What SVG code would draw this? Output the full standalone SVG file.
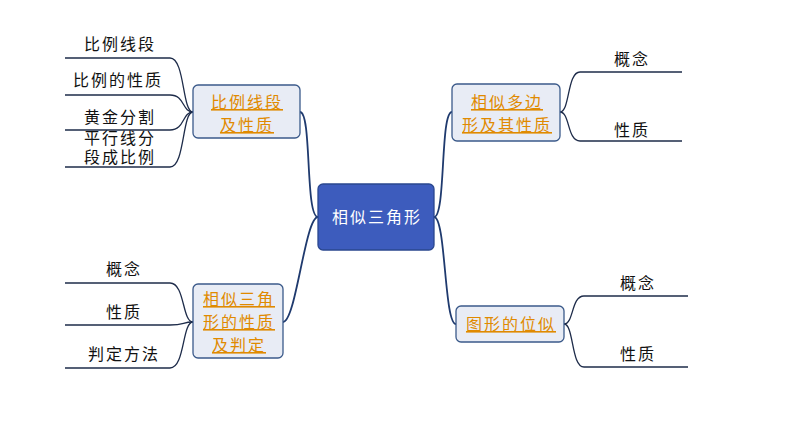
<svg xmlns="http://www.w3.org/2000/svg" width="794" height="447" viewBox="0 0 794 447">
<style>
.c{fill:none;stroke:#1e2c4a;stroke-width:1.3}
.cm{fill:none;stroke:#1f3a6e;stroke-width:1.8}
.n{fill:#e8ecf5;stroke:#3b5a8a;stroke-width:1.3}
.t{font-family:"Noto Sans CJK SC",sans-serif;font-size:16px;letter-spacing:2px;text-anchor:middle}
.o{fill:#e08a00;text-decoration:underline}
.k{fill:#111}
</style>
<rect width="794" height="447" fill="#fff"/>
<g id="connectors">
<path class="cm" d="M318,217 C305,217 312,112 300,112"/>
<path class="cm" d="M318,217 C305,217 296,322 283,322"/>
<path class="cm" d="M434,217 C446,217 440,112 452,112"/>
<path class="cm" d="M434,217 C446,217 444,324 456,324"/>
<path class="c" d="M193,112 C182,112 185,58 170,58 L65,58"/>
<path class="c" d="M193,112 C182,112 185,95 170,95 L65,95"/>
<path class="c" d="M193,112 C182,112 185,130 170,130 L65,130"/>
<path class="c" d="M193,112 C182,112 185,167 170,167 L65,167"/>
<path class="c" d="M193,322 C182,322 185,283 170,283 L65,283"/>
<path class="c" d="M193,322 C182,322 185,325 170,325 L65,325"/>
<path class="c" d="M193,322 C182,322 185,368 170,368 L65,368"/>
<path class="c" d="M560,112 C570,112 567,72 580,72 L682,72"/>
<path class="c" d="M560,112 C570,112 567,141 580,141 L682,141"/>
<path class="c" d="M564,324 C574,324 571,296 584,296 L688,296"/>
<path class="c" d="M564,324 C574,324 571,367 584,367 L688,367"/>
</g>
<g id="center"><rect x="318" y="184" width="116" height="66" rx="5" fill="#3d5cbd" stroke="#2a478f" stroke-width="1.3"/><text class="t" x="377" y="223" fill="#fff" font-size="17">相似三角形</text></g>
<g id="n1"><rect class="n" x="193" y="85" width="107" height="53" rx="5"/><text class="t o" x="247" y="108" font-size="17">比例线段</text><text class="t o" x="247" y="131" font-size="17">及性质</text></g>
<g id="n2"><rect class="n" x="452" y="84" width="108" height="57" rx="5"/><text class="t o" x="507" y="108" font-size="17">相似多边</text><text class="t o" x="507" y="131" font-size="17">形及其性质</text></g>
<g id="n3"><rect class="n" x="193" y="284" width="90" height="74" rx="5"/><text class="t o" x="239" y="305" font-size="17">相似三角</text><text class="t o" x="239" y="328" font-size="17">形的性质</text><text class="t o" x="239" y="351" font-size="17">及判定</text></g>
<g id="n4"><rect class="n" x="456" y="306" width="108" height="36" rx="5"/><text class="t o" x="511" y="330" font-size="17">图形的位似</text></g>
<g id="leaves">
<text class="t k" x="120" y="50">比例线段</text>
<text class="t k" x="118" y="86">比例的性质</text>
<text class="t k" x="120" y="123">黄金分割</text>
<text class="t k" x="120" y="144" font-size="14">平行线分</text>
<text class="t k" x="120" y="163" font-size="14">段成比例</text>
<text class="t k" x="124" y="275">概念</text>
<text class="t k" x="124" y="318">性质</text>
<text class="t k" x="124" y="360">判定方法</text>
<text class="t k" x="632" y="65">概念</text>
<text class="t k" x="632" y="136">性质</text>
<text class="t k" x="638" y="289">概念</text>
<text class="t k" x="638" y="360">性质</text>
</g>
</svg>
